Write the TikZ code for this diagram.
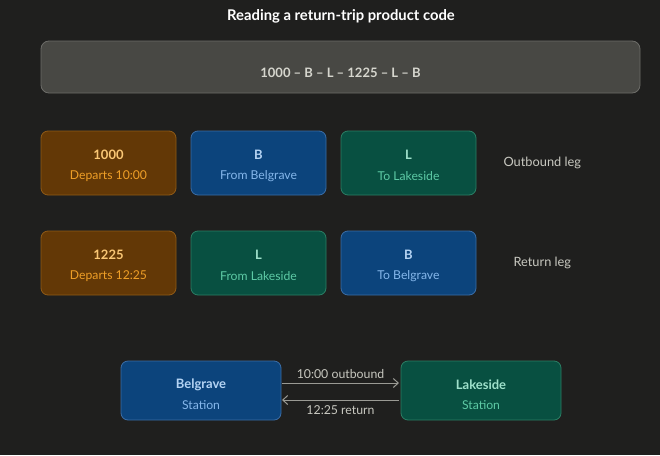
\documentclass[tikz,border=0pt]{standalone}
\usepackage{fontspec}
\setmainfont{Lato}
\usetikzlibrary{arrows.meta}
\definecolor{bg}{HTML}{1F1F1E}
\definecolor{barfill}{HTML}{484844}
\definecolor{barline}{HTML}{6C6C68}
\definecolor{bartext}{HTML}{D6D6CE}
\definecolor{ofill}{HTML}{633806}
\definecolor{oline}{HTML}{8F5A16}
\definecolor{otitle}{HTML}{FAC775}
\definecolor{osub}{HTML}{EF9F27}
\definecolor{bfill}{HTML}{0C447C}
\definecolor{bline}{HTML}{3B6DA6}
\definecolor{btitle}{HTML}{B5D4F4}
\definecolor{bsub}{HTML}{85B7EB}
\definecolor{gfill}{HTML}{085041}
\definecolor{gline}{HTML}{2B7E64}
\definecolor{gtitle}{HTML}{9FE1CB}
\definecolor{gsub}{HTML}{5DCAA5}
\definecolor{lbl}{HTML}{C8C8C0}
\definecolor{arr}{HTML}{9A9A94}
\tikzset{
  card/.style={rounded corners=7pt, line width=0.8pt},
  obox/.style={card, fill=ofill, draw=oline},
  bbox/.style={card, fill=bfill, draw=bline},
  gbox/.style={card, fill=gfill, draw=gline},
  ttl/.style={font=\fontsize{13}{15}\selectfont\bfseries, anchor=center},
  sub/.style={font=\fontsize{12.2}{14}\selectfont, anchor=center},
  side/.style={font=\fontsize{12.8}{15}\selectfont, text=lbl, anchor=west},
  link/.style={draw=arr, line width=1pt, -{Straight Barb[length=5pt,width=9pt]}},
  ltxt/.style={font=\fontsize{12.3}{14}\selectfont, text=lbl}
}
\begin{document}
\begin{tikzpicture}[x=1pt,y=-1pt]
\fill[bg] (0,0) rectangle (660,455);
\useasboundingbox (0,0) rectangle (660,455);

\node[font=\fontsize{14.8}{17}\selectfont\bfseries, text=white] (title) at (341,16) {Reading a return-trip product code};

\draw[rounded corners=8pt, fill=barfill, draw=barline, line width=0.8pt] (41,41) rectangle (640,93);
\node[font=\fontsize{13}{15}\selectfont\bfseries, text=bartext] (code) at (340.5,73) {1000 – B – L – 1225 – L – B};

% Row 1
\draw[obox] (41,131) rectangle (176,195);
\node[ttl, text=otitle] (r1a) at (108.5,155) {1000};
\node[sub, text=osub] (r1as) at (108.5,176) {Departs 10:00};
\draw[bbox] (191,131) rectangle (326,195);
\node[ttl, text=btitle] (r1b) at (258.5,155) {B};
\node[sub, text=bsub] (r1bs) at (258.5,176) {From Belgrave};
\draw[gbox] (341,131) rectangle (476,195);
\node[ttl, text=gtitle] (r1c) at (408.5,155) {L};
\node[sub, text=gsub] (r1cs) at (408.5,176) {To Lakeside};
\node[side] (out) at (500,163) {Outbound leg};

% Row 2
\draw[obox] (41,231) rectangle (176,295);
\node[ttl, text=otitle] (r2a) at (108.5,255) {1225};
\node[sub, text=osub] (r2as) at (108.5,276) {Departs 12:25};
\draw[gbox] (191,231) rectangle (326,295);
\node[ttl, text=gtitle] (r2b) at (258.5,255) {L};
\node[sub, text=gsub] (r2bs) at (258.5,276) {From Lakeside};
\draw[bbox] (341,231) rectangle (476,295);
\node[ttl, text=btitle] (r2c) at (408.5,255) {B};
\node[sub, text=bsub] (r2cs) at (408.5,276) {To Belgrave};
\node[side] (ret) at (510,263) {Return leg};

% Bottom stations
\node[bbox, minimum width=160pt, minimum height=59pt, inner sep=0pt] (bel) at (201,390.5) {};
\node[ttl, text=btitle] at (201,385) {Belgrave};
\node[sub, text=bsub] at (201,405) {Station};
\node[gbox, minimum width=160pt, minimum height=59pt, inner sep=0pt] (lak) at (481,390.5) {};
\node[ttl, text=gtitle] at (481,385) {Lakeside};
\node[sub, text=gsub] at (481,405) {Station};

\coordinate (a1s) at (282,383);
\coordinate (a1e) at (399,383);
\coordinate (a2s) at (399,400);
\coordinate (a2e) at (282,400);
\draw[link] (a1s) -- node[ltxt, above=1pt] {10:00 outbound} (a1e);
\draw[link] (a2s) -- node[ltxt, below=1.5pt] {12:25 return} (a2e);
\end{tikzpicture}
\end{document}
